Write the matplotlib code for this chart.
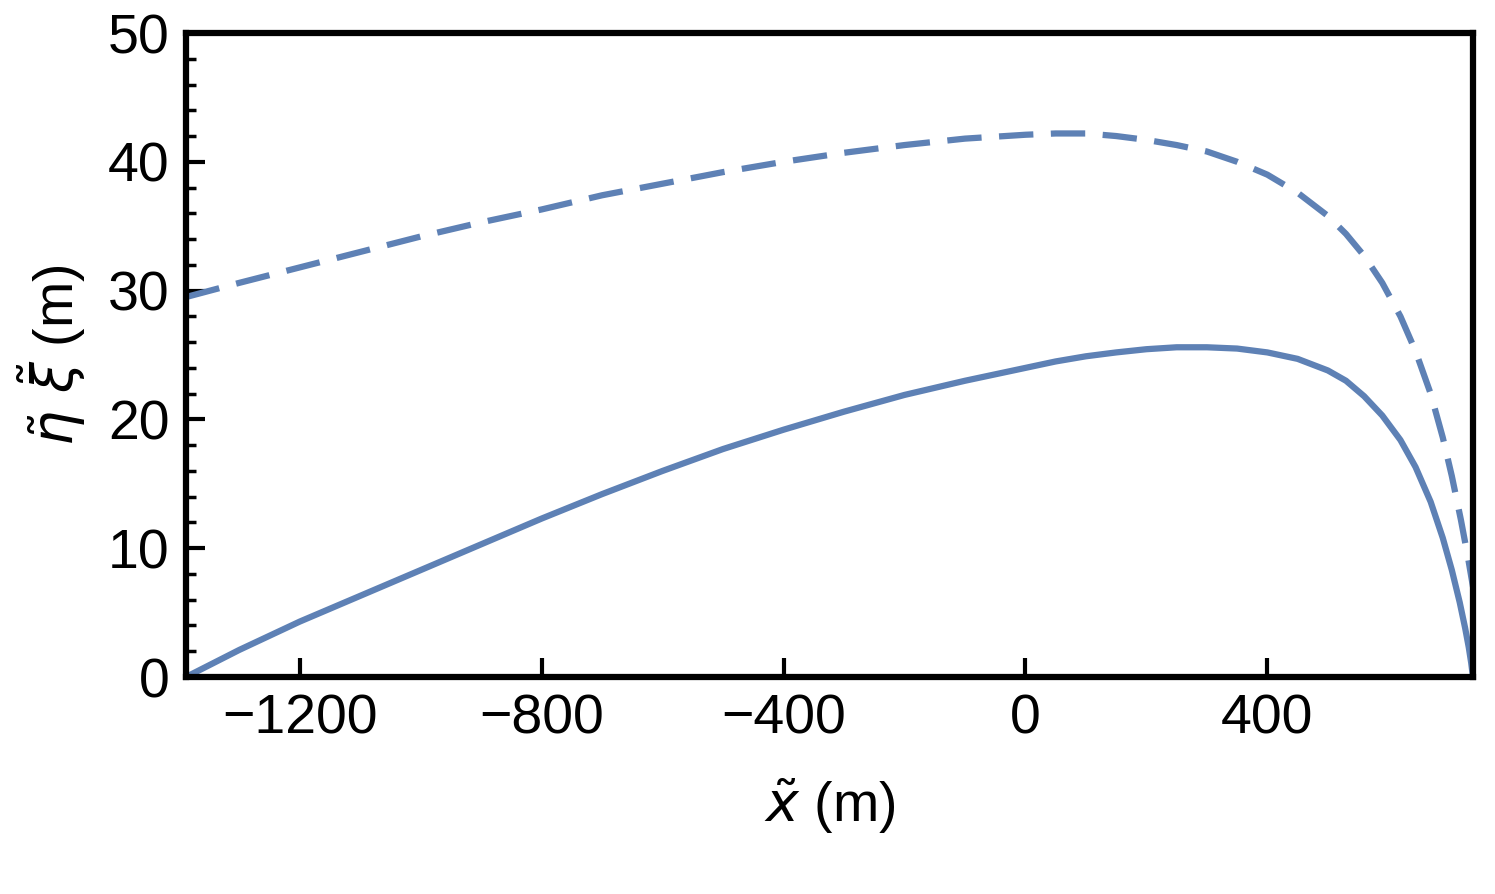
import matplotlib
matplotlib.use("Agg")
import matplotlib.pyplot as plt

plt.rcParams['font.family'] = ['Liberation Sans', 'DejaVu Sans']
plt.rcParams['mathtext.fontset'] = 'dejavusans'

x_solid = [-1388, -1300, -1200, -1100, -1000, -900, -800, -700, -600, -500, -400, -300, -200, -100, 0, 50, 100, 150, 200, 250, 300, 350, 400, 450, 500, 530, 560, 590, 620, 645, 670, 690, 705, 718, 727, 733, 737, 740]
y_solid = [0, 2.1, 4.3, 6.3, 8.3, 10.3, 12.3, 14.2, 16.0, 17.7, 19.2, 20.6, 21.9, 23.0, 24.0, 24.5, 24.9, 25.2, 25.45, 25.6, 25.6, 25.5, 25.2, 24.7, 23.8, 23.0, 21.8, 20.3, 18.4, 16.3, 13.6, 10.8, 8.3, 5.8, 3.8, 2.3, 1.1, 0]
x_dash = [-1388, -1300, -1200, -1100, -1000, -900, -800, -700, -600, -500, -400, -300, -200, -100, 0, 50, 100, 150, 200, 250, 300, 350, 400, 450, 500, 530, 560, 590, 620, 645, 670, 690, 705, 720, 732, 740]
y_dash = [29.5, 30.6, 31.8, 33.0, 34.2, 35.3, 36.3, 37.4, 38.3, 39.2, 40.0, 40.7, 41.3, 41.8, 42.1, 42.2, 42.2, 42.0, 41.7, 41.3, 40.8, 40.0, 39.0, 37.6, 35.8, 34.4, 32.7, 30.6, 28.0, 25.3, 22.0, 18.6, 15.6, 12.2, 9.2, 7.0]

fig = plt.figure(figsize=(14.95, 8.94), dpi=100)
ax = fig.add_axes([186/1495, 1-677/894, (1473-186)/1495, (677-33)/894])
c = '#5E81B5'
ax.plot(x_solid, y_solid, color=c, lw=4.5, solid_joinstyle='round')
ax.plot(x_dash, y_dash, color=c, lw=4.5, ls=(0, (5.5, 2.8)))
ax.set_xlim(-1388, 740)
ax.set_ylim(0, 50)
ax.set_xticks([-1200, -800, -400, 0, 400])
ax.set_xticklabels(['\u22121200', '\u2212800', '\u2212400', '0', '400'])
ax.set_yticks([0, 10, 20, 30, 40, 50])
ax.set_yticks([i for i in range(0, 51, 2)], minor=True)
ax.tick_params(which='major', direction='in', length=14, width=3, labelsize=40, pad=12)
ax.tick_params(which='minor', direction='in', length=7, width=2.5)
ax.tick_params(axis='x', which='minor', bottom=False)
for s in ax.spines.values():
    s.set_linewidth(4.5)
ax.set_xlabel(r'$\tilde{x}$ (m)', fontsize=40, labelpad=22)
ax.set_ylabel(r'$\tilde{\eta}\ \tilde{\xi}$ (m)', fontsize=40, labelpad=14)
fig.savefig('out.png', dpi=100)
